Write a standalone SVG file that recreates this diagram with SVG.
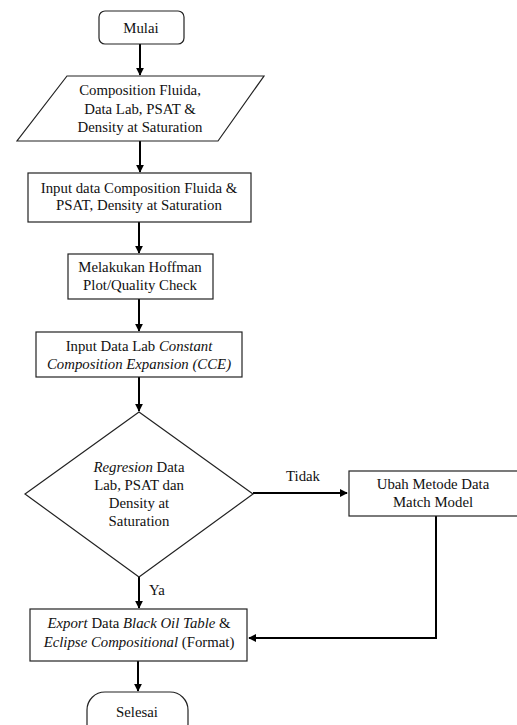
<svg xmlns="http://www.w3.org/2000/svg" width="517" height="725" viewBox="0 0 517 725">
<style>
.s{fill:#fff;stroke:#222;stroke-width:1.2}
.t{font-family:"Liberation Serif","Times New Roman",serif;font-size:14.8px;fill:#111;text-anchor:middle;dominant-baseline:central}
.i{font-style:italic}
.c{fill:none;stroke:#000;stroke-width:2}
</style>
<defs>
<marker id="ah" viewBox="0 0 10 10" refX="9" refY="5" markerWidth="4" markerHeight="4" orient="auto" markerUnits="strokeWidth">
<path d="M0,0 L10,5 L0,10 z" fill="#000"/>
</marker>
</defs>
<rect width="517" height="725" fill="#fff"/>
<g id="connectors">
<line class="c" x1="140" y1="44" x2="140" y2="75" marker-end="url(#ah)"/>
<line class="c" x1="140" y1="141" x2="140" y2="172" marker-end="url(#ah)"/>
<line class="c" x1="139" y1="222" x2="139" y2="253" marker-end="url(#ah)"/>
<line class="c" x1="139" y1="299" x2="139" y2="331" marker-end="url(#ah)"/>
<line class="c" x1="139" y1="377" x2="139" y2="411" marker-end="url(#ah)"/>
<line class="c" x1="253" y1="493" x2="347" y2="493" marker-end="url(#ah)"/>
<polyline class="c" points="436,516 436,638 249,638" marker-end="url(#ah)"/>
<line class="c" x1="139" y1="577" x2="139" y2="608" marker-end="url(#ah)"/>
<line class="c" x1="138" y1="661" x2="138" y2="691" marker-end="url(#ah)"/>
<text class="t" x="303" y="476">Tidak</text>
<text class="t" x="157" y="590">Ya</text>
</g>
<g id="mulai">
<rect class="s" x="99" y="11" width="85" height="33" rx="6"/>
<text class="t" x="141" y="28">Mulai</text>
</g>
<g id="input-data">
<polygon class="s" points="67,76 264,76 218,141 17,141"/>
<text class="t" x="140" y="90">Composition Fluida,</text>
<text class="t" x="140" y="109">Data Lab, PSAT &amp;</text>
<text class="t" x="140" y="127">Density at Saturation</text>
</g>
<g id="input-composition">
<rect class="s" x="28" y="173" width="223" height="49"/>
<text class="t" x="139" y="188">Input data Composition Fluida &amp;</text>
<text class="t" x="139" y="205">PSAT, Density at Saturation</text>
</g>
<g id="hoffman">
<rect class="s" x="68" y="254" width="145" height="45"/>
<text class="t" x="140" y="267">Melakukan Hoffman</text>
<text class="t" x="140" y="285">Plot/Quality Check</text>
</g>
<g id="cce">
<rect class="s" x="36" y="332" width="206" height="45"/>
<text class="t" x="139" y="346">Input Data Lab <tspan class="i">Constant</tspan></text>
<text class="t i" x="139" y="364">Composition Expansion (CCE)</text>
</g>
<g id="regresion">
<polygon class="s" points="139,412 253,494 139,577 25,494"/>
<text class="t" x="139" y="467"><tspan class="i">Regresion</tspan> Data</text>
<text class="t" x="139" y="485">Lab, PSAT dan</text>
<text class="t" x="139" y="503">Density at</text>
<text class="t" x="139" y="521">Saturation</text>
</g>
<g id="ubah">
<rect class="s" x="349" y="471" width="172" height="45"/>
<text class="t" x="433" y="484">Ubah Metode Data</text>
<text class="t" x="433" y="502">Match Model</text>
</g>
<g id="export">
<rect class="s" x="30" y="609" width="217" height="52"/>
<text class="t" x="139" y="623"><tspan class="i">Export</tspan> Data <tspan class="i">Black Oil Table</tspan> &amp;</text>
<text class="t" x="139" y="642"><tspan class="i">Eclipse Compositional</tspan> (Format)</text>
</g>
<g id="selesai">
<rect class="s" x="87" y="692" width="101" height="50" rx="18"/>
<text class="t" x="137" y="712">Selesai</text>
</g>
</svg>
